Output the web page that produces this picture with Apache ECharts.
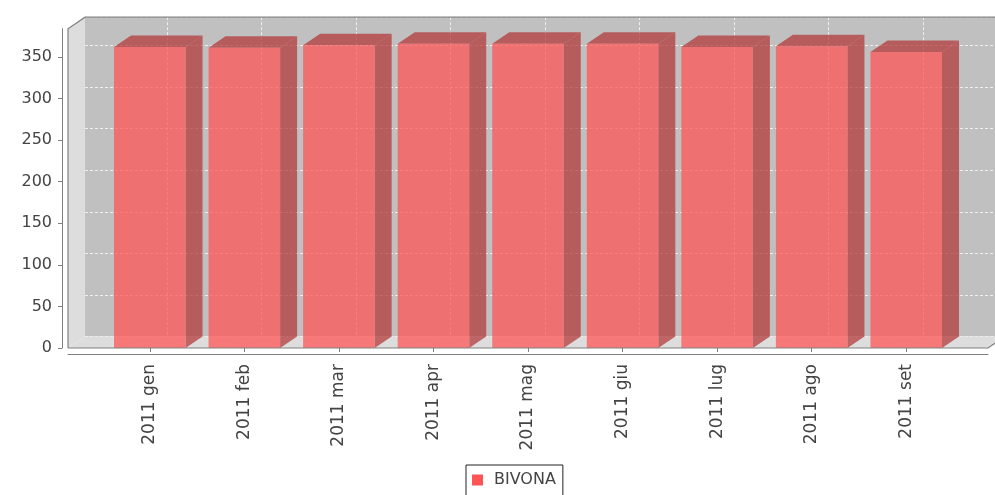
<!DOCTYPE html>
<html>
<head>
<meta charset="utf-8">
<script src="https://cdn.jsdelivr.net/npm/echarts@6/dist/echarts.min.js"></script>
<style>
  html, body { margin: 0; padding: 0; background: #ffffff; }
  #chart { width: 995px; height: 495px; }
</style>
</head>
<body>
<div id="chart"></div>
<script>
// Monthly totals for BIVONA, 2011
const seriesName = 'BIVONA';
const categories = ['2011 gen', '2011 feb', '2011 mar', '2011 apr', '2011 mag', '2011 giu', '2011 lug', '2011 ago', '2011 set'];
const values = [362, 361, 364, 366, 366, 366, 362, 363, 356];
const yTicks = [0, 50, 100, 150, 200, 250, 300, 350];
const yMax = 384;

// Canvas and front-plane geometry of the 3D plot box
const W = 995, H = 495;
const plot = { left: 68, right: 988, top: 28.7, bottom: 348 };
const depth = { dx: 17, dy: 11.5 };

// Category axis spacing: outer margins and gaps between bars
const lowerMargin = 0.05, upperMargin = 0.05, itemMargin = 0.2;
const n = categories.length;
const axisLen = plot.right - plot.left;
const barW = axisLen * (1 - lowerMargin - upperMargin - itemMargin) / n;
const gapW = axisLen * itemMargin / (n - 1);
const pitch = barW + gapW;
const firstCenter = plot.left + axisLen * lowerMargin + barW / 2;
const lastCenter = firstCenter + pitch * (n - 1);
const bandLeft = firstCenter - pitch / 2;
const bandRight = bandLeft + pitch * n;
const barRatio = barW / pitch;

const baseColor = [255, 85, 85];
const darkColor = baseColor.map(c => Math.round(c * 0.7));
const rgb = c => 'rgb(' + c.join(',') + ')';
const barAlpha = 0.75;

const font = 'DejaVu Sans';
const labelColor = '#444444';
const lineColor = '#808080';
const gridLine = { show: true, lineStyle: { color: 'rgba(255,255,255,0.75)', width: 1, type: [3, 2] } };

const chart = echarts.init(document.getElementById('chart'), null, { renderer: 'canvas' });

const frontGrid = { top: plot.top, bottom: H - plot.bottom };
const backGrid = { top: plot.top - depth.dy, bottom: H - (plot.bottom - depth.dy) };

function renderBar(params, api) {
  const idx = api.value(0);
  const top = api.coord([idx, api.value(1)]);
  const base = api.coord([idx, 0]);
  const w = api.size([1, 0])[0] * barRatio;
  const x0 = top[0] - w / 2, x1 = top[0] + w / 2;
  const yt = top[1], yb = base[1];
  const dx = depth.dx, dy = depth.dy;
  return {
    type: 'group',
    children: [
      {
        type: 'polygon',
        shape: { points: [[x1, yt], [x1 + dx, yt - dy], [x1 + dx, yb - dy], [x1, yb]] },
        style: { fill: rgb(darkColor), opacity: barAlpha }
      },
      {
        type: 'polygon',
        shape: { points: [[x0, yt], [x0 + dx, yt - dy], [x1 + dx, yt - dy], [x1, yt]] },
        style: { fill: rgb(darkColor), opacity: barAlpha }
      },
      {
        type: 'rect',
        shape: { x: x0, y: yt, width: w, height: yb - yt },
        style: { fill: rgb(baseColor), opacity: barAlpha }
      }
    ]
  };
}

const option = {
  animation: false,
  backgroundColor: '#ffffff',
  textStyle: { fontFamily: font },
  grid: [
    // 0: bars (category bands)
    { left: bandLeft, right: W - bandRight, top: frontGrid.top, bottom: frontGrid.bottom },
    // 1: front axes
    { left: plot.left, right: W - plot.right, top: frontGrid.top, bottom: frontGrid.bottom },
    // 2: back wall with horizontal gridlines
    { left: plot.left + depth.dx, right: W - (plot.right + depth.dx), top: backGrid.top, bottom: backGrid.bottom,
      show: true, backgroundColor: '#c0c0c0', borderWidth: 0 },
    // 3: back wall vertical gridlines at category centres
    { left: firstCenter + depth.dx, right: W - (lastCenter + depth.dx), top: backGrid.top, bottom: backGrid.bottom }
  ],
  xAxis: [
    {
      gridIndex: 0, type: 'category', data: categories, offset: 6,
      axisLine: { show: false },
      axisTick: { show: true, alignWithLabel: true, length: 4, lineStyle: { color: lineColor } },
      axisLabel: { rotate: 90, margin: 10, color: labelColor, fontSize: 17, fontFamily: font }
    },
    {
      gridIndex: 1, type: 'value', min: 0, max: 1, offset: 6,
      axisLine: { show: true, onZero: false, lineStyle: { color: lineColor, width: 1 } },
      axisTick: { show: false }, axisLabel: { show: false }, splitLine: { show: false }
    },
    {
      gridIndex: 2, type: 'value', min: 0, max: 1,
      axisLine: { show: false }, axisTick: { show: false }, axisLabel: { show: false }, splitLine: { show: false }
    },
    {
      gridIndex: 3, type: 'category', data: categories, boundaryGap: false,
      axisLine: { show: false }, axisTick: { show: false }, axisLabel: { show: false },
      splitLine: gridLine
    }
  ],
  yAxis: [
    {
      gridIndex: 0, type: 'value', min: 0, max: yMax,
      axisLine: { show: false }, axisTick: { show: false }, axisLabel: { show: false }, splitLine: { show: false }
    },
    {
      gridIndex: 1, type: 'value', min: 0, max: yMax, interval: 50, offset: 6,
      axisLine: { show: true, onZero: false, lineStyle: { color: lineColor, width: 1 } },
      axisTick: { show: true, length: 4, lineStyle: { color: lineColor }, customValues: yTicks },
      axisLabel: { color: labelColor, fontSize: 16, fontFamily: font, margin: 10, customValues: yTicks },
      splitLine: { show: false }
    },
    {
      gridIndex: 2, type: 'value', min: 0, max: yMax, interval: 50,
      axisLine: { show: false }, axisTick: { show: false }, axisLabel: { show: false },
      splitLine: gridLine
    },
    {
      gridIndex: 3, type: 'value', min: 0, max: yMax,
      axisLine: { show: false }, axisTick: { show: false }, axisLabel: { show: false }, splitLine: { show: false }
    }
  ],
  legend: {
    data: [seriesName],
    left: 466, top: 465,
    orient: 'horizontal',
    icon: 'rect',
    itemWidth: 11, itemHeight: 11,
    padding: [7, 7, 8, 6],
    borderColor: '#222222', borderWidth: 1,
    textStyle: { color: labelColor, fontSize: 16, fontFamily: font, padding: [0, 0, 0, 6] }
  },
  graphic: [
    {
      // left wall
      type: 'polygon', z: 1, silent: true,
      shape: { points: [[plot.left, plot.bottom], [plot.left, plot.top], [plot.left + depth.dx, plot.top - depth.dy], [plot.left + depth.dx, plot.bottom - depth.dy]] },
      style: { fill: '#dddddd' }
    },
    {
      // floor
      type: 'polygon', z: 1, silent: true,
      shape: { points: [[plot.left, plot.bottom], [plot.left + depth.dx, plot.bottom - depth.dy], [plot.right + depth.dx, plot.bottom - depth.dy], [plot.right, plot.bottom]] },
      style: { fill: '#dddddd' }
    },
    {
      // plot outline
      type: 'polyline', z: 100, silent: true,
      shape: { points: [[plot.left, plot.bottom], [plot.left, plot.top], [plot.left + depth.dx, plot.top - depth.dy], [W + 20, plot.top - depth.dy]] },
      style: { stroke: lineColor, lineWidth: 1.2, fill: null }
    },
    {
      type: 'polyline', z: 100, silent: true,
      shape: { points: [[plot.left, plot.bottom], [plot.right, plot.bottom], [plot.right + depth.dx, plot.bottom - depth.dy]] },
      style: { stroke: lineColor, lineWidth: 1.2, fill: null }
    }
  ],
  series: [
    {
      name: seriesName,
      type: 'custom',
      xAxisIndex: 0, yAxisIndex: 0,
      z: 5,
      itemStyle: { color: rgb(baseColor) },
      encode: { x: 0, y: 1 },
      data: categories.map((c, i) => [i, values[i]]),
      renderItem: renderBar
    }
  ]
};

chart.setOption(option);
</script>
</body>
</html>
